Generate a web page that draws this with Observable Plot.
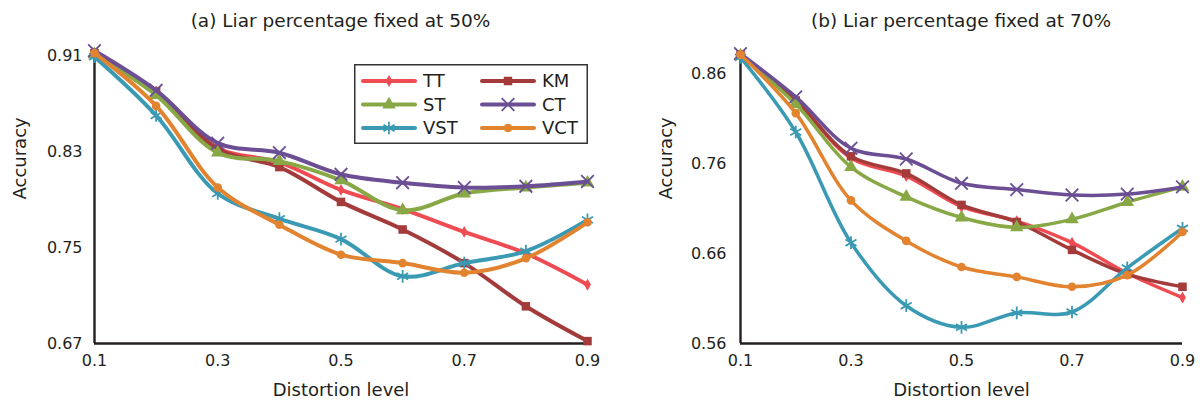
<!DOCTYPE html>
<html>
<head>
<meta charset="utf-8">
<script src="https://cdn.jsdelivr.net/npm/d3@7"></script>
<script src="https://cdn.jsdelivr.net/npm/@observablehq/plot@0.6"></script>
<style>
  html, body { margin: 0; padding: 0; background: #fff; }
  #wrap { position: relative; width: 1200px; height: 402px; display: flex; font-family: "DejaVu Sans", sans-serif; color: #231f20; }
  .panel { position: relative; width: 600px; height: 402px; }
  .title { height: 36px; line-height: 41px; font-size: 18.5px; text-align: center; white-space: nowrap; box-sizing: border-box; }
  .legend { position: absolute; }
</style>
</head>
<body>
<div id="wrap">
  <div class="panel" id="pa"></div>
  <div class="panel" id="pb"></div>
</div>
<script>
// ---- data ----
const distortion = [0.1, 0.2, 0.3, 0.4, 0.5, 0.6, 0.7, 0.8, 0.9];
const seriesNames = ["TT", "KM", "ST", "CT", "VST", "VCT"];
const seriesColors = ["#ef4b53", "#a33b3a", "#87a845", "#6b4e93", "#3a9ab4", "#e2832f"];

// (a) liar percentage 50%
const TT50  = [0.911, 0.880, 0.833, 0.821, 0.798, 0.782, 0.763, 0.745, 0.719];
const KM50  = [0.912, 0.880, 0.832, 0.817, 0.788, 0.765, 0.737, 0.701, 0.672];
const ST50  = [0.911, 0.877, 0.829, 0.822, 0.806, 0.781, 0.795, 0.800, 0.804];
const CT50  = [0.914, 0.881, 0.837, 0.829, 0.811, 0.804, 0.800, 0.801, 0.805];
const VST50 = [0.909, 0.860, 0.795, 0.774, 0.757, 0.726, 0.737, 0.747, 0.773];
const VCT50 = [0.912, 0.868, 0.800, 0.769, 0.744, 0.737, 0.729, 0.741, 0.771];

// (b) liar percentage 70%
const TT70  = [0.880, 0.830, 0.766, 0.746, 0.712, 0.696, 0.672, 0.638, 0.611];
const KM70  = [0.881, 0.830, 0.768, 0.749, 0.714, 0.695, 0.664, 0.637, 0.623];
const ST70  = [0.880, 0.826, 0.756, 0.723, 0.700, 0.689, 0.698, 0.717, 0.734];
const CT70  = [0.882, 0.834, 0.777, 0.765, 0.738, 0.731, 0.725, 0.726, 0.734];
const VST70 = [0.878, 0.795, 0.672, 0.602, 0.578, 0.594, 0.595, 0.644, 0.688];
const VCT70 = [0.881, 0.816, 0.719, 0.674, 0.645, 0.634, 0.623, 0.636, 0.684];

const xTicks = [0.1, 0.3, 0.5, 0.7, 0.9];
const yTicksA = [0.67, 0.75, 0.83, 0.91];
const yTicksB = [0.56, 0.66, 0.76, 0.86];
const titleA = "(a) Liar percentage fixed at 50%";
const titleB = "(b) Liar percentage fixed at 70%";
const xLabel = "Distortion level";
const yLabel = "Accuracy";

// ---- styling ----
const symbolOf = {TT: "diamond", KM: "square", ST: "triangle", CT: "times", VST: "asterisk", VCT: "circle"};
const rOf = {TT: 3.6, KM: 4.8, ST: 5, CT: 5.8, VST: 6, VCT: 4.3};
const strokeSym = new Set(["times", "asterisk"]);
const ink = "#231f20";

function tidy(cols) {
  return seriesNames.flatMap((s, i) => distortion.map((x, j) => ({series: s, x, y: cols[i][j]})));
}

function panel(el, title, cols, yDomain, yTicks, opts) {
  const data = tidy(cols);
  const t = document.createElement("div");
  t.className = "title";
  t.style.paddingLeft = opts.ml + "px";
  t.style.paddingRight = opts.mr + "px";
  t.textContent = title;
  el.appendChild(t);

  const marks = [
    Plot.axisX({ticks: xTicks, tickSize: 0, tickPadding: 11, label: null, tickFormat: d => d.toFixed(1), fontSize: 16}),
    Plot.axisY({ticks: yTicks, tickSize: 0, tickPadding: opts.tp, label: null, tickFormat: d => d.toFixed(2), fontSize: 16}),
    Plot.ruleX([0.1], {stroke: ink, strokeWidth: 2.4}),
    Plot.ruleY([yDomain[0]], {stroke: ink, strokeWidth: 2.4})
  ];
  for (const s of seriesNames) {
    const d = data.filter(r => r.series === s);
    marks.push(Plot.line(d, {x: "x", y: "y", stroke: "series", curve: "catmull-rom", strokeWidth: opts.sw}));
    const sym = symbolOf[s];
    if (strokeSym.has(sym)) {
      marks.push(Plot.dot(d, {x: "x", y: "y", symbol: () => sym, r: rOf[s], stroke: "series", fill: "none", strokeWidth: 1.8}));
    } else {
      marks.push(Plot.dot(d, {x: "x", y: "y", symbol: () => sym, r: rOf[s], fill: "series", stroke: "none"}));
    }
  }
  marks.push(Plot.text([xLabel], {text: d => d, frameAnchor: "bottom", dy: 47, fontSize: 18, lineAnchor: "middle", fill: ink}));
  marks.push(Plot.text([yLabel], {text: d => d, frameAnchor: "left", dx: -74, rotate: -90, fontSize: 18, lineAnchor: "middle", fill: ink}));

  const chart = Plot.plot({
    width: 600,
    height: 366,
    marginLeft: opts.ml,
    marginRight: opts.mr,
    marginTop: 19,
    marginBottom: 59,
    style: {fontFamily: "DejaVu Sans, sans-serif", fontSize: "16px", color: ink, background: "white", overflow: "visible"},
    x: {domain: [0.1, 0.9]},
    y: {domain: yDomain},
    color: {domain: seriesNames, range: seriesColors},
    symbol: {type: "identity"},
    marks
  });
  el.appendChild(chart);
  return chart;
}

panel(document.getElementById("pa"), titleA,
  [TT50, KM50, ST50, CT50, VST50, VCT50], [0.67, 0.91], yTicksA, {ml: 94, mr: 13, tp: 12, sw: 4});
panel(document.getElementById("pb"), titleB,
  [TT70, KM70, ST70, CT70, VST70, VCT70], [0.56, 0.88], yTicksB, {ml: 140, mr: 18, tp: 14, sw: 3.5});

// ---- legend (inside panel a) ----
const symType = {diamond: d3.symbolDiamond, square: d3.symbolSquare, triangle: d3.symbolTriangle,
                 times: d3.symbolTimes, asterisk: d3.symbolAsterisk, circle: d3.symbolCircle};
const lw = 234, lh = 80;
const leg = d3.select("#pa").append("svg")
  .attr("class", "legend")
  .attr("width", lw).attr("height", lh)
  .style("left", "354px").style("top", "64px")
  .style("font-family", "DejaVu Sans, sans-serif");
leg.append("rect").attr("x", 0.75).attr("y", 0.75).attr("width", lw - 1.5).attr("height", lh - 1.5)
  .attr("fill", "white").attr("stroke", "#333").attr("stroke-width", 1.5);
seriesNames.forEach((s, i) => {
  const col = i % 2, row = Math.floor(i / 2);
  const x0 = col === 0 ? 9 : 128;
  const x1 = x0 + 52;
  const y = 17 + row * 23.5;
  const c = seriesColors[i];
  const g = leg.append("g");
  g.append("line").attr("x1", x0).attr("x2", x1).attr("y1", y).attr("y2", y)
    .attr("stroke", c).attr("stroke-width", 4).attr("stroke-linecap", "round");
  const sym = symbolOf[s];
  const r = rOf[s];
  const p = g.append("path").attr("transform", `translate(${(x0 + x1) / 2},${y})`)
    .attr("d", d3.symbol(symType[sym], Math.PI * r * r)());
  if (strokeSym.has(sym)) p.attr("fill", "none").attr("stroke", c).attr("stroke-width", 1.8);
  else p.attr("fill", c);
  g.append("text").attr("x", x1 + 8).attr("y", y).attr("dy", "0.36em")
    .attr("font-size", 18).attr("fill", ink).text(s);
});
</script>
</body>
</html>
